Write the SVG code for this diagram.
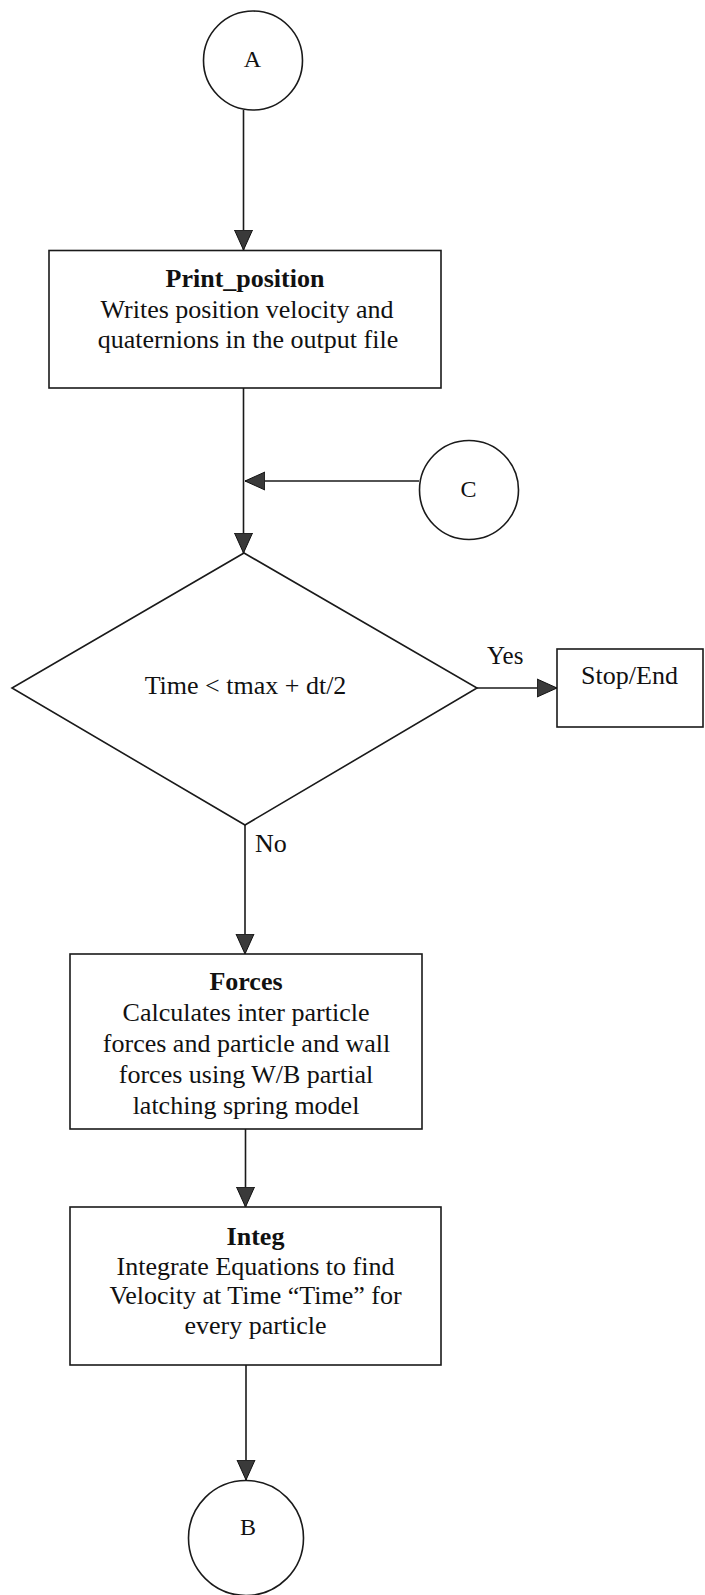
<svg xmlns="http://www.w3.org/2000/svg" width="705" height="1595" viewBox="0 0 705 1595">
  <defs>
    <style>
      .shape { fill: #ffffff; stroke: #1a1a1a; stroke-width: 1.6; }
      .edge { fill: none; stroke: #1a1a1a; stroke-width: 1.6; }
      .txt { font-family: "Liberation Serif", "Times New Roman", serif; font-size: 26px; fill: #111; text-anchor: middle; }
      .title { font-weight: bold; }
      .lbl { font-family: "Liberation Serif", "Times New Roman", serif; font-size: 25px; fill: #111; }
      .conn { font-family: "Liberation Serif", "Times New Roman", serif; font-size: 24px; fill: #111; text-anchor: middle; }
    </style>
    <marker id="arrow" markerUnits="userSpaceOnUse" markerWidth="22" markerHeight="22" refX="20" refY="10" orient="auto">
      <path d="M0,1 L20,10 L0,19 z" fill="#3a3a3a" stroke="#111" stroke-width="1"/>
    </marker>
  </defs>

  <rect width="705" height="1595" fill="#ffffff"/>

  <!-- connectors -->
  <g id="connectors">
    <line class="edge" x1="243.5" y1="110" x2="243.5" y2="250" marker-end="url(#arrow)"/>
    <line class="edge" x1="243.5" y1="388" x2="243.5" y2="553" marker-end="url(#arrow)"/>
    <line class="edge" x1="419" y1="481" x2="245" y2="481" marker-end="url(#arrow)"/>
    <line class="edge" x1="477" y1="688" x2="557" y2="688" marker-end="url(#arrow)"/>
    <line class="edge" x1="245" y1="825" x2="245" y2="954" marker-end="url(#arrow)"/>
    <line class="edge" x1="245.5" y1="1129" x2="245.5" y2="1207" marker-end="url(#arrow)"/>
    <line class="edge" x1="246" y1="1365" x2="246" y2="1480" marker-end="url(#arrow)"/>
    <text class="lbl" x="487" y="664">Yes</text>
    <text class="lbl" x="255" y="852" style="font-size:26px">No</text>
  </g>

  <!-- connector A -->
  <g id="node-a">
    <circle class="shape" cx="253" cy="60.5" r="49.5"/>
    <text class="conn" x="252.5" y="66.5">A</text>
  </g>

  <!-- Print_position -->
  <g id="node-print-position">
    <rect class="shape" x="49" y="250.5" width="392" height="137.5"/>
    <text class="txt title" x="245" y="286.5">Print_position</text>
    <text class="txt" x="247" y="317.5">Writes position velocity and</text>
    <text class="txt" x="248" y="348">quaternions in the output file</text>
  </g>

  <!-- connector C -->
  <g id="node-c">
    <circle class="shape" cx="469" cy="490" r="49.5"/>
    <text class="conn" x="468.5" y="496.5">C</text>
  </g>

  <!-- decision -->
  <g id="node-decision">
    <polygon class="shape" points="244,553 477,688 245,825 12,688"/>
    <text class="txt" x="245.5" y="693.5">Time &lt; tmax + dt/2</text>
  </g>

  <!-- Stop/End -->
  <g id="node-stop">
    <rect class="shape" x="557" y="649" width="146" height="78"/>
    <text class="txt" x="629.5" y="683.5">Stop/End</text>
  </g>

  <!-- Forces -->
  <g id="node-forces">
    <rect class="shape" x="70" y="954" width="352" height="175"/>
    <text class="txt title" x="246" y="990">Forces</text>
    <text class="txt" x="246" y="1021">Calculates inter particle</text>
    <text class="txt" x="246.5" y="1052">forces and particle and wall</text>
    <text class="txt" x="246" y="1083">forces using W/B partial</text>
    <text class="txt" x="246" y="1114">latching spring model</text>
  </g>

  <!-- Integ -->
  <g id="node-integ">
    <rect class="shape" x="70" y="1207" width="371" height="158"/>
    <text class="txt title" x="255.5" y="1245">Integ</text>
    <text class="txt" x="255.5" y="1274.5">Integrate Equations to find</text>
    <text class="txt" x="255.5" y="1304">Velocity at Time “Time” for</text>
    <text class="txt" x="255.5" y="1333.5">every particle</text>
  </g>

  <!-- connector B -->
  <g id="node-b">
    <circle class="shape" cx="246" cy="1538" r="57.5"/>
    <text class="conn" x="248" y="1535">B</text>
  </g>
</svg>
